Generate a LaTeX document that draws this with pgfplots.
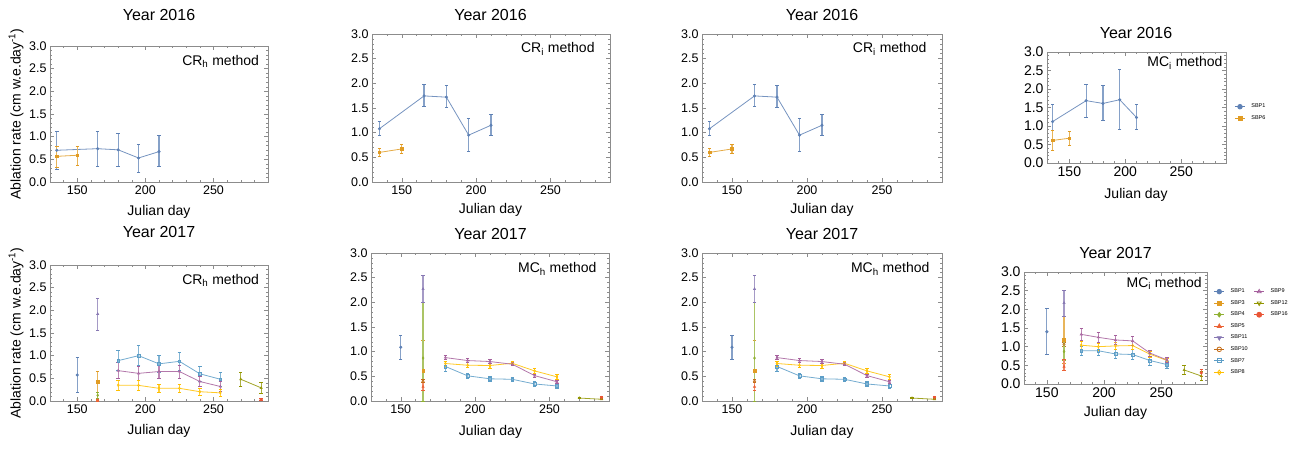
\documentclass[border=0pt]{standalone}
\usepackage{pgfplots}
\pgfplotsset{compat=1.18}
\usepackage{fontspec}
\setmainfont{Liberation Sans}
\definecolor{c1}{rgb}{0.368,0.507,0.710}
\definecolor{c2}{rgb}{0.881,0.611,0.142}
\definecolor{c3}{rgb}{0.560,0.692,0.195}
\definecolor{c4}{rgb}{0.923,0.386,0.209}
\definecolor{c5}{rgb}{0.528,0.471,0.701}
\definecolor{c6}{rgb}{0.772,0.432,0.102}
\definecolor{c7}{rgb}{0.364,0.619,0.782}
\definecolor{c8}{rgb}{1.000,0.750,0.000}
\definecolor{c9}{rgb}{0.648,0.378,0.614}
\definecolor{c10}{rgb}{0.572,0.586,0.000}
\definecolor{c11}{rgb}{0.915,0.333,0.213}
\pgfplotsset{
 panel/.style={scale only axis, anchor=south west, xmin=130, xmax=290, ymin=0, ymax=3,
  xtick={150,200,250}, ytick={0,0.5,1,1.5,2,2.5,3},
  minor xtick={140,160,170,180,190,210,220,230,240,260,270,280},
  minor ytick={0.1,0.2,0.3,0.4,0.6,0.7,0.8,0.9,1.1,1.2,1.3,1.4,1.6,1.7,1.8,1.9,2.1,2.2,2.3,2.4,2.6,2.7,2.8,2.9},
  tick align=inside, major tick length=4pt, minor tick length=2pt,
  axis line style={draw=black!45, line width=0.6pt},
  every tick/.append style={black!45, line width=0.5pt},
  yticklabel style={/pgf/number format/.cd, fixed, fixed zerofill, precision=1, assume math mode=true, /tikz/.cd},
  xticklabel style={/pgf/number format/assume math mode=true},
  tick label style={font=\fontsize{12.5}{12.5}\selectfont},
  clip=false,
 },
 big/.style={tick label style={font=\fontsize{14}{14}\selectfont}},
 ser/.style 2 args={forget plot, color=#1!85!white, mark=#2, mark size=1.3pt, line width=0.8pt,
  mark options={solid, line width=0.5pt, #1},
  error bars/.cd, y dir=both, y explicit, error bar style={line width=1.2pt, #1!75!white},
  error mark options={rotate=90, line width=0.7pt, mark size=1.7pt, #1}},
 leg/.style={legend image code/.code={\draw[mark repeat=2,mark phase=2] plot coordinates {(0pt,0pt)(5pt,0pt)(10pt,0pt)};},
  legend style={draw=none, fill=none, font=\fontsize{5.5}{6}\selectfont, row sep=2.2pt, column sep=4pt},
  legend cell align=left},
}
\newcommand{\method}[2]{\node[anchor=base east, font=\fontsize{14}{14}\selectfont] at (rel axis cs:#1) {#2};}
\begin{document}
\begin{tikzpicture}
\useasboundingbox (0,0) rectangle (1298pt,448pt);
% titles and labels
\begin{scope}[every node/.style={font=\fontsize{16}{16}\selectfont, anchor=base}]
\node at (159pt,427.3pt) {Year 2016};
\node at (490.5pt,427.3pt) {Year 2016};
\node at (822pt,427.3pt) {Year 2016};
\node at (1136pt,409pt) {Year 2016};
\node at (159pt,210.7pt) {Year 2017};
\node at (490.5pt,209pt) {Year 2017};
\node at (822pt,209pt) {Year 2017};
\node at (1115.5pt,190pt) {Year 2017};
\end{scope}
\begin{scope}[every node/.style={font=\fontsize{14}{14}\selectfont, anchor=base}]
\node at (159pt,233pt) {Julian day};
\node at (490.5pt,235pt) {Julian day};
\node at (822pt,235pt) {Julian day};
\node at (1136pt,250pt) {Julian day};
\node at (159pt,14pt) {Julian day};
\node at (490.5pt,13pt) {Julian day};
\node at (822pt,13pt) {Julian day};
\node at (1115.5pt,32pt) {Julian day};
\node[rotate=90, anchor=center] at (16pt,334pt) {Ablation rate (cm w.e.day\textsuperscript{-1})};
\node[rotate=90, anchor=center] at (16pt,115pt) {Ablation rate (cm w.e.day\textsuperscript{-1})};
\end{scope}

% ---------- P1: 2016 CRh
\begin{axis}[panel, at={(50pt,266pt)}, width=218pt, height=136pt]
\addplot[ser={c1}{*}] coordinates {(135,0.70) += (0,0.42) -= (0,0.43) (165,0.735) += (0,0.39) -= (0,0.385) (180,0.71) += (0,0.37) -= (0,0.365) (195,0.53) += (0,0.30) -= (0,0.32) (210,0.67) += (0,0.35) -= (0,0.325)};
\addplot[ser={c2}{square*}] coordinates {(135,0.566) += (0,0.22) -= (0,0.24) (150,0.59) += (0,0.20) -= (0,0.22)};
\method{0.975,0.86}{CR\textsubscript{h} method}
\end{axis}

% ---------- P2: 2016 CRi
\begin{axis}[panel, at={(372pt,266pt)}, width=238pt, height=148pt]
\addplot[ser={c1}{*}] coordinates {(135,1.08) += (0,0.14) -= (0,0.13) (165,1.745) += (0,0.235) -= (0,0.215) (180,1.72) += (0,0.23) -= (0,0.21) (195,0.95) += (0,0.34) -= (0,0.33) (210,1.15) += (0,0.22) -= (0,0.20)};
\addplot[ser={c2}{square*}] coordinates {(135,0.60) += (0,0.08) -= (0,0.08) (150,0.67) += (0,0.10) -= (0,0.09)};
\method{0.95,0.872}{CR\textsubscript{i} method}
\end{axis}

% ---------- P3: 2016 CRi
\begin{axis}[panel, at={(702pt,266pt)}, width=240pt, height=148pt]
\addplot[ser={c1}{*}] coordinates {(135,1.08) += (0,0.14) -= (0,0.13) (165,1.745) += (0,0.235) -= (0,0.215) (180,1.72) += (0,0.23) -= (0,0.21) (195,0.95) += (0,0.34) -= (0,0.33) (210,1.15) += (0,0.22) -= (0,0.20)};
\addplot[ser={c2}{square*}] coordinates {(135,0.60) += (0,0.08) -= (0,0.08) (150,0.67) += (0,0.10) -= (0,0.09)};
\method{0.95,0.872}{CR\textsubscript{i} method}
\end{axis}

% ---------- P4: 2016 MCi
\begin{axis}[panel, big, leg, at={(1047pt,285pt)}, width=179pt, height=111pt,
  legend style={at={(1.03,0.455)}, anchor=west}]
\addplot[ser={c1}{*}] coordinates {(135,1.12) += (0,0.47) -= (0,0.47) (165,1.685) += (0,0.445) -= (0,0.445) (180,1.61) += (0,0.49) -= (0,0.47) (195,1.71) += (0,0.82) -= (0,0.79) (210,1.23) += (0,0.36) -= (0,0.33)};
\addplot[ser={c2}{square*}] coordinates {(135,0.61) += (0,0.28) -= (0,0.28) (150,0.67) += (0,0.19) -= (0,0.18)};
\method{1.0,0.865}{MC\textsubscript{i} method}
\addlegendimage{c1, mark=*, mark size=2.3pt, line width=0.8pt}\addlegendentry{SBP1}
\addlegendimage{c2, mark=square*, mark size=2pt, line width=0.8pt}\addlegendentry{SBP6}
\end{axis}

% ---------- P5: 2017 CRh
\begin{axis}[panel, at={(50pt,47pt)}, width=218pt, height=136pt]
\addplot[ser={c1}{*}] coordinates {(150,0.574) += (0,0.39) -= (0,0.39)};
\addplot[ser={c2}{square*}] coordinates {(165,0.42) += (0,0.23) -= (0,0.40)};
\addplot[ser={c3}{diamond*}] coordinates {(165,0.125) += (0,0.065) -= (0,0.065)};
\addplot[ser={c4}{triangle*}] coordinates {(165,0.02) += (0,0.02) -= (0,0.02)};
\addplot[ser={c5}{triangle*}] coordinates {(165,1.92) += (0,0.35) -= (0,0.36)};
\addplot[ser={c7}{square}] coordinates {(180,0.89) += (0,0.22) -= (0,0.22) (195,1.00) += (0,0.22) -= (0,0.22) (210,0.82) += (0,0.19) -= (0,0.19) (225,0.875) += (0,0.19) -= (0,0.19) (240,0.60) += (0,0.165) -= (0,0.165) (255,0.48) += (0,0.15) -= (0,0.15)};
\addplot[ser={c9}{triangle}] coordinates {(180,0.67) += (0,0.175) -= (0,0.175) (195,0.61) += (0,0.15) -= (0,0.15) (210,0.65) += (0,0.14) -= (0,0.14) (225,0.65) += (0,0.145) -= (0,0.145) (240,0.43) += (0,0.11) -= (0,0.11) (255,0.32) += (0,0.11) -= (0,0.11)};
\addplot[ser={c8}{diamond}] coordinates {(180,0.35) += (0,0.105) -= (0,0.105) (195,0.345) += (0,0.10) -= (0,0.10) (210,0.28) += (0,0.095) -= (0,0.095) (225,0.28) += (0,0.09) -= (0,0.09) (240,0.205) += (0,0.085) -= (0,0.085) (255,0.18) += (0,0.08) -= (0,0.08)};
\addplot[ser={c10}{triangle}] coordinates {(270,0.48) += (0,0.15) -= (0,0.15) (285,0.29) += (0,0.12) -= (0,0.12)};
\addplot[ser={c11}{*}] coordinates {(285,0.03) += (0,0.02) -= (0,0.02)};
\method{0.975,0.86}{CR\textsubscript{h} method}
\end{axis}

% ---------- P6: 2017 MCh
\begin{axis}[panel, at={(371pt,47pt)}, width=238pt, height=148pt]
\addplot[ser={c1}{*}] coordinates {(150,1.09) += (0,0.24) -= (0,0.24)};
\addplot[ser={c2}{square*}] coordinates {(165,0.61) += (0,0.61) -= (0,0.61)};
\addplot[ser={c3}{diamond*}] coordinates {(165,0.87) += (0,1.13) -= (0,0.87)};
\addplot[ser={c4}{triangle*}] coordinates {(165,0.29) += (0,0.08) -= (0,0.08)};
\addplot[ser={c6}{o}] coordinates {(165,0.40) += (0,0.03) -= (0,0.03)};
\addplot[ser={c5}{triangle*}] coordinates {(165,2.27) += (0,0.27) -= (0,0.27)};
\addplot[ser={c7}{square}] coordinates {(180,0.70) += (0,0.10) -= (0,0.10) (195,0.51) += (0,0.06) -= (0,0.06) (210,0.45) += (0,0.05) -= (0,0.05) (225,0.44) += (0,0.04) -= (0,0.04) (240,0.345) += (0,0.05) -= (0,0.05) (255,0.305) += (0,0.05) -= (0,0.05)};
\addplot[ser={c8}{diamond}] coordinates {(180,0.76) += (0,0.05) -= (0,0.05) (195,0.725) += (0,0.05) -= (0,0.05) (210,0.72) += (0,0.05) -= (0,0.05) (225,0.765) += (0,0.03) -= (0,0.03) (240,0.61) += (0,0.05) -= (0,0.05) (255,0.49) += (0,0.05) -= (0,0.05)};
\addplot[ser={c9}{triangle}] coordinates {(180,0.88) += (0,0.04) -= (0,0.04) (195,0.82) += (0,0.04) -= (0,0.04) (210,0.80) += (0,0.04) -= (0,0.04) (225,0.745) += (0,0.03) -= (0,0.03) (240,0.515) += (0,0.03) -= (0,0.03) (255,0.39) += (0,0.03) -= (0,0.03)};
\addplot[ser={c10}{triangle}] coordinates {(270,0.06) += (0,0.01) -= (0,0.01) (285,0.035) += (0,0.01) -= (0,0.01)};
\addplot[ser={c11}{*}] coordinates {(285,0.07) += (0,0.03) -= (0,0.03)};
\method{0.962,0.865}{MC\textsubscript{h} method}
\end{axis}

% ---------- P7: 2017 MCh
\begin{axis}[panel, at={(702pt,47pt)}, width=240pt, height=148pt]
\addplot[ser={c1}{*}] coordinates {(150,1.09) += (0,0.24) -= (0,0.24)};
\addplot[ser={c2}{square*}] coordinates {(165,0.61) += (0,0.61) -= (0,0.61)};
\addplot[ser={c3}{diamond*}] coordinates {(165,0.87) += (0,1.13) -= (0,0.87)};
\addplot[ser={c4}{triangle*}] coordinates {(165,0.29) += (0,0.08) -= (0,0.08)};
\addplot[ser={c6}{o}] coordinates {(165,0.40) += (0,0.03) -= (0,0.03)};
\addplot[ser={c5}{triangle*}] coordinates {(165,2.27) += (0,0.27) -= (0,0.27)};
\addplot[ser={c7}{square}] coordinates {(180,0.70) += (0,0.10) -= (0,0.10) (195,0.51) += (0,0.06) -= (0,0.06) (210,0.45) += (0,0.05) -= (0,0.05) (225,0.44) += (0,0.04) -= (0,0.04) (240,0.345) += (0,0.05) -= (0,0.05) (255,0.305) += (0,0.05) -= (0,0.05)};
\addplot[ser={c8}{diamond}] coordinates {(180,0.76) += (0,0.05) -= (0,0.05) (195,0.725) += (0,0.05) -= (0,0.05) (210,0.72) += (0,0.05) -= (0,0.05) (225,0.765) += (0,0.03) -= (0,0.03) (240,0.61) += (0,0.05) -= (0,0.05) (255,0.49) += (0,0.05) -= (0,0.05)};
\addplot[ser={c9}{triangle}] coordinates {(180,0.88) += (0,0.04) -= (0,0.04) (195,0.82) += (0,0.04) -= (0,0.04) (210,0.80) += (0,0.04) -= (0,0.04) (225,0.745) += (0,0.03) -= (0,0.03) (240,0.515) += (0,0.03) -= (0,0.03) (255,0.39) += (0,0.03) -= (0,0.03)};
\addplot[ser={c10}{triangle}] coordinates {(270,0.06) += (0,0.01) -= (0,0.01) (285,0.035) += (0,0.01) -= (0,0.01)};
\addplot[ser={c11}{*}] coordinates {(285,0.07) += (0,0.03) -= (0,0.03)};
\method{0.962,0.865}{MC\textsubscript{h} method}
\end{axis}

% ---------- P8: 2017 MCi
\begin{axis}[panel, big, leg, at={(1024pt,64pt)}, width=183pt, height=112pt,
  legend columns=2, legend style={at={(1.02,0.464)}, anchor=west}]
\addplot[ser={c1}{*}] coordinates {(150,1.40) += (0,0.63) -= (0,0.60)};
\addplot[ser={c2}{square*}] coordinates {(165,1.18) += (0,0.62) -= (0,0.62)};
\addplot[ser={c5}{triangle*}] coordinates {(165,2.17) += (0,0.35) -= (0,0.35)};
\addplot[ser={c6}{o}] coordinates {(165,1.065) += (0,0.05) -= (0,0.05)};
\addplot[ser={c3}{diamond*}] coordinates {(165,0.87) += (0,0.31) -= (0,0.23)};
\addplot[ser={c4}{triangle*}] coordinates {(165,0.465) += (0,0.20) -= (0,0.11)};
\addplot[ser={c7}{square}] coordinates {(180,0.89) += (0,0.13) -= (0,0.13) (195,0.89) += (0,0.13) -= (0,0.13) (210,0.805) += (0,0.13) -= (0,0.13) (225,0.79) += (0,0.13) -= (0,0.13) (240,0.63) += (0,0.12) -= (0,0.12) (255,0.52) += (0,0.10) -= (0,0.10)};
\addplot[ser={c8}{diamond}] coordinates {(180,1.04) += (0,0.10) -= (0,0.10) (195,1.00) += (0,0.10) -= (0,0.10) (210,1.02) += (0,0.10) -= (0,0.10) (225,1.03) += (0,0.10) -= (0,0.10) (240,0.80) += (0,0.08) -= (0,0.08) (255,0.63) += (0,0.06) -= (0,0.06)};
\addplot[ser={c9}{triangle}] coordinates {(180,1.33) += (0,0.16) -= (0,0.16) (195,1.25) += (0,0.14) -= (0,0.14) (210,1.18) += (0,0.12) -= (0,0.12) (225,1.155) += (0,0.12) -= (0,0.12) (240,0.83) += (0,0.08) -= (0,0.08) (255,0.645) += (0,0.06) -= (0,0.06)};
\addplot[ser={c10}{triangle}] coordinates {(270,0.376) += (0,0.13) -= (0,0.13) (285,0.215) += (0,0.12) -= (0,0.12)};
\addplot[ser={c11}{*}] coordinates {(285,0.30) += (0,0.10) -= (0,0.10)};
\method{0.99,0.866}{MC\textsubscript{i} method}
\addlegendimage{c1, mark=*, mark size=2.3pt, line width=0.8pt}\addlegendentry{SBP1}
\addlegendimage{c9, mark=triangle, mark size=2.3pt, line width=0.8pt}\addlegendentry{SBP9}
\addlegendimage{c2, mark=square*, mark size=2pt, line width=0.8pt}\addlegendentry{SBP3}
\addlegendimage{c10, mark=triangle, mark options={rotate=180}, mark size=2.3pt, line width=0.8pt}\addlegendentry{SBP12}
\addlegendimage{c3, mark=diamond*, mark size=2.3pt, line width=0.8pt}\addlegendentry{SBP4}
\addlegendimage{c11, mark=*, mark size=2.5pt, line width=0.8pt}\addlegendentry{SBP16}
\addlegendimage{c4, mark=triangle*, mark size=2.3pt, line width=0.8pt}\addlegendentry{SBP5}
\addlegendimage{empty legend}\addlegendentry{}
\addlegendimage{c5, mark=triangle*, mark options={rotate=180}, mark size=2.3pt, line width=0.8pt}\addlegendentry{SBP11}
\addlegendimage{empty legend}\addlegendentry{}
\addlegendimage{c6, mark=o, mark size=2.3pt, line width=0.8pt}\addlegendentry{SBP10}
\addlegendimage{empty legend}\addlegendentry{}
\addlegendimage{c7, mark=square, mark size=2pt, line width=0.8pt}\addlegendentry{SBP7}
\addlegendimage{empty legend}\addlegendentry{}
\addlegendimage{c8, mark=diamond, mark size=2.3pt, line width=0.8pt}\addlegendentry{SBP8}
\end{axis}
\end{tikzpicture}
\end{document}
